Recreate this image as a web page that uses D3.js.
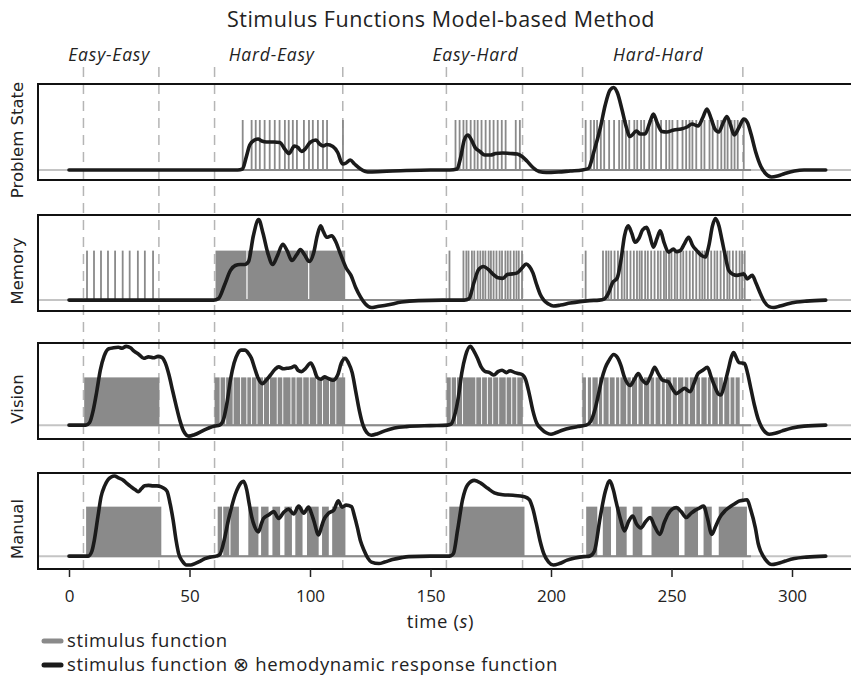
<!DOCTYPE html>
<html>
<head>
<meta charset="utf-8">
<script src="https://cdn.jsdelivr.net/npm/d3@7"></script>
<style>
  body { margin: 0; background: #fff; }
  svg text { fill: #222; }
</style>
</head>
<body>
<div id="container"></div>
<script>
/* DATA */
// conditions (seconds)
const conditions = ["Easy-Easy", "Hard-Easy", "Easy-Hard", "Hard-Hard"];
const condStart = [6, 60.4, 156.6, 213.1];
const condEnd = [37.3, 113.6, 188.2, 279.6];

const modules = ["Problem State", "Memory", "Vision", "Manual"];
const timeTicks = [0, 50, 100, 150, 200, 250, 300];
const stimEnd = 283; // stimulus function defined up to here

// stimulus function: short events (onsets, s)
const problemSpikes = [71.7, 75.4, 77.1, 78.8, 80.8, 82.9, 85, 87, 89.2, 90.8, 92.5, 94.2, 97.1, 99.2, 100.8, 102.9, 105, 106.7, 113.3,
  160, 161.7, 163.3, 164.6, 166.3, 167.9, 169.2, 170.8, 172.5, 174.2, 175.8, 177.5, 179.2, 180.8, 185, 186.7,
  214, 216.1, 217.5, 218.75, 220.3, 221.7, 223.75, 225.8, 227.9, 229.2, 230.7, 232.1, 234.2, 235.4, 237, 238.3, 240.4, 241.7,
  243.2, 245.3, 247.4, 248.75, 250, 252.1, 254.2, 255.7, 257.1, 258.3, 259.9, 262, 263.3, 265.4, 266.7, 268.75, 270.3, 271.7,
  272.9, 274.5, 275.8, 277.1, 279.6];
const memorySpikes = [7.1, 10, 12.9, 15.8, 18.75, 21.9, 24.8, 28.2, 31.1, 34.5,
  157.5, 163.3, 164.5, 165.4, 166.8, 167.8, 169.2, 170.3, 171.4, 172.4, 173.75, 174.7, 175.8, 177, 178.3, 179.3, 180.7, 181.7,
  182.8, 184.2, 185.3, 186.25, 187.6,
  214, 221.2, 222.5, 223.5, 224.6, 226, 227.4, 229, 230.1, 231.2, 232.6, 234, 235.3, 236.4, 237.3, 238.7, 239.8, 241.2, 242.6,
  244, 245.1, 246.5, 247.4, 248.6, 249.6, 251, 252, 253.4, 254.5, 255.8, 257.2, 258.5, 259.9, 261.3, 262.4, 263.4, 264.7,
  266.1, 267.5, 268.6, 270, 271.4, 272.8, 273.7, 275.1, 276.5, 277.9, 278.9, 280];
const spikeDur = 0.6;

// stimulus function: long events [on, off] (s)
const memoryBlocks = [[60.8, 73.6], [74.1, 99.2], [99.7, 114.6]];
const visionBlocks = [[6.3, 37.5],
  [60.4, 62.5], [62.9, 64.8], [65.2, 67.9], [68.3, 71], [71.4, 73.6], [74, 75.5], [75.9, 77.8], [78.2, 80.5], [80.9, 83],
  [83.4, 86.2], [86.6, 88.5], [88.9, 91.9], [92.3, 94], [94.4, 96.8], [97.2, 99.5], [99.9, 102.6], [103, 105], [105.4, 107.9],
  [108.3, 110.5], [110.9, 114.6],
  [156.7, 158.4], [158.8, 160.6], [161, 163.1], [163.5, 168.6], [169, 171], [171.4, 173.4], [173.8, 175.6], [176, 178.1],
  [178.5, 181.2], [181.6, 183.5], [183.9, 185.6], [186, 188.3],
  [213, 214.5], [215.3, 216.6], [217.2, 219.4], [219.9, 221.2], [221.8, 223.9], [224.4, 226.4], [227, 228.3], [228.8, 231.2],
  [231.7, 233.1], [233.6, 235.7], [236.3, 238.1], [238.6, 240.8], [241.3, 242.8], [243.4, 245.4], [246, 247.2], [247.7, 249.9],
  [250.5, 252.2], [252.7, 254.9], [255.5, 257], [257.6, 259.8], [260.3, 261.8], [262.4, 264.6], [265.1, 266.3], [266.9, 269.2],
  [269.7, 271.3], [271.9, 274], [274.5, 276.1], [276.6, 278.3]];
const manualBlocks = [[7.1, 38.3],
  [61.7, 63.5], [64, 66.5], [67, 70.5], [74.4, 78.6], [79.7, 82.8], [84.4, 87.6], [89.4, 92.5], [93.9, 96.9], [98.75, 103.6],
  [105, 107.8], [109.2, 114.7],
  [157.8, 189],
  [214.6, 219.2], [221.5, 224.9], [227, 231.4], [233.9, 237.9], [241.7, 253.1], [255.4, 261], [263.3, 266.7], [269.6, 281.3]];

// stimulus function convolved with hemodynamic response function [t, value]
const problemHRF = [[0, 0], [70, 0], [72, 0.02], [73.5, 0.25], [75, 0.5], [77, 0.6], [78.5, 0.62], [80, 0.58], [82, 0.56], [85, 0.56],
  [87.5, 0.55], [89.5, 0.42], [91.3, 0.33], [93.5, 0.48], [95, 0.45], [96.5, 0.37], [98, 0.42], [100, 0.55], [102.5, 0.6],
  [104, 0.52], [105.5, 0.48], [107, 0.51], [109.5, 0.47], [111.5, 0.35], [113.5, 0.12], [115, 0.14], [116.7, 0.2], [118.5, 0.12],
  [121, 0.02], [124, -0.04], [130, -0.03], [140, -0.01], [150, 0], [158, 0],
  [161, 0.02], [162.5, 0.25], [164, 0.6], [165.5, 0.7], [167, 0.6], [168.5, 0.45], [170.5, 0.37], [172.5, 0.3], [175, 0.3],
  [177, 0.33], [180, 0.34], [183, 0.33], [186, 0.32], [188, 0.27], [190, 0.18], [192.5, 0.05], [195, -0.03], [198, -0.05],
  [203, -0.04], [208, -0.02], [213, 0],
  [215.5, 0.03], [218, 0.4], [220.5, 0.85], [222.5, 1.3], [224.5, 1.6], [226, 1.65], [227.5, 1.55], [229.5, 1.2], [231, 0.9],
  [232.8, 0.67], [235.5, 0.78], [237, 0.72], [239, 0.72], [241, 0.95], [242.5, 1.12], [244, 0.95], [246, 0.77], [248, 0.76],
  [251, 0.8], [254, 0.82], [256.5, 0.86], [258.5, 0.92], [261, 0.88], [263, 1.05], [264.7, 1.22], [266.5, 1.02], [268, 0.82],
  [269.6, 0.76], [271.5, 0.95], [273, 1.07], [274.5, 0.9], [276, 0.7], [278, 0.85], [280, 1.02], [281.5, 0.95], [283, 0.72],
  [285, 0.35], [287, 0.08], [289, -0.07], [291.5, -0.14], [294, -0.12], [297, -0.07], [301, -0.02], [305, 0], [314, 0]];
const memoryHRF = [[0, 0], [60, 0], [62, 0.03], [64.5, 0.3], [67, 0.6], [69, 0.7], [71, 0.72], [73, 0.72], [74.5, 0.78],
  [76.5, 1.3], [78.7, 1.63], [80.5, 1.35], [82.5, 0.95], [84.5, 0.72], [86.5, 0.9], [88.7, 1.13], [90.5, 1.0], [92.5, 0.8],
  [94.5, 0.92], [96, 1.02], [97.7, 0.92], [99.7, 0.78], [101.5, 0.95], [103, 1.3], [104.4, 1.5], [105.6, 1.38], [106.9, 1.27],
  [109, 1.3], [110.5, 1.2], [112.5, 0.95], [115, 0.65], [117, 0.5], [119, 0.25], [121, 0.06], [123, -0.08], [125.4, -0.15],
  [128, -0.13], [132, -0.1], [138, -0.04], [145, -0.01], [155, 0],
  [164, 0], [166, 0.03], [168, 0.35], [170, 0.62], [172, 0.68], [174, 0.62], [176, 0.52], [178, 0.45], [180, 0.44], [182, 0.52],
  [184, 0.53], [186, 0.55], [188, 0.65], [189.7, 0.73], [191, 0.68], [192.5, 0.55], [194, 0.32], [195.5, 0.12], [197, 0],
  [199, -0.08], [201, -0.12], [204, -0.1], [208, -0.06], [212, -0.03], [216, -0.01], [220, 0],
  [222, 0.02], [223.75, 0.13], [225.5, 0.35], [227.5, 0.45], [229, 0.8], [230.5, 1.3], [232, 1.5], [233.5, 1.35], [234.9, 1.17],
  [236.5, 1.25], [238, 1.42], [239.7, 1.47], [241, 1.3], [242.5, 1.07], [244, 1.25], [245.3, 1.4], [247, 1.15], [248.75, 0.97],
  [250.8, 1.03], [252, 0.98], [253.6, 1.0], [255.5, 1.15], [257.1, 1.27], [258.8, 1.1], [260.5, 1.0], [262.5, 0.9], [264, 0.87],
  [265.5, 1.1], [267, 1.5], [268.2, 1.65], [269.7, 1.5], [271, 1.2], [272.5, 0.85], [273.75, 0.6], [275.5, 0.52], [277.2, 0.5],
  [279, 0.52], [280, 0.53], [281.4, 0.43], [283.5, 0.5], [285, 0.35], [286.9, 0.13], [288.5, -0.03], [290.5, -0.13],
  [292.5, -0.15], [295, -0.12], [298, -0.08], [302, -0.04], [306, -0.02], [314, 0]];
const visionHRF = [[0, 0], [7, 0], [8.5, 0.05], [10, 0.3], [11.5, 0.7], [13, 1.15], [14.6, 1.45], [16.5, 1.6], [18.5, 1.62],
  [20.5, 1.63], [22, 1.61], [23.7, 1.65], [25.5, 1.62], [27, 1.55], [29, 1.48], [31, 1.4], [33, 1.43], [35, 1.41], [37, 1.44],
  [38.5, 1.42], [40, 1.3], [41.5, 1.05], [43, 0.72], [44.5, 0.4], [46, 0.1], [47.5, -0.12], [49.7, -0.23], [52, -0.2],
  [55, -0.13], [58, -0.06], [60.5, -0.02],
  [62.5, 0], [64, 0.1], [65.5, 0.45], [67, 0.95], [68.5, 1.3], [70, 1.5], [71.5, 1.57], [73, 1.57], [74.5, 1.5], [75.7, 1.4],
  [77, 1.2], [78.5, 0.98], [80.2, 0.87], [82, 0.95], [83.6, 1.05], [85.5, 1.17], [87, 1.22], [89, 1.18], [90.4, 1.19],
  [92, 1.2], [93.75, 1.24], [95, 1.15], [96.5, 1.12], [98, 1.18], [100.3, 1.3], [101.5, 1.2], [103, 1.0], [104.5, 0.96],
  [106, 1.01], [107.5, 0.98], [109.5, 0.94], [111.5, 1.05], [113, 1.3], [114.6, 1.4], [116, 1.3], [117.5, 1.1], [119, 0.7],
  [120.5, 0.3], [122, 0.0], [123.5, -0.15], [125.4, -0.21], [128, -0.18], [131, -0.12], [135, -0.06], [140, -0.03],
  [150, -0.01], [157, 0],
  [158.5, 0.02], [160, 0.2], [161.6, 0.6], [163, 1.1], [164.5, 1.45], [166.5, 1.65], [168, 1.55], [169.5, 1.4], [171, 1.22],
  [172.5, 1.13], [174.5, 1.1], [176.3, 1.05], [178, 1.12], [179.7, 1.15], [181.5, 1.1], [183, 1.14], [185, 1.1], [186.5, 1.08],
  [188, 1.06], [189.5, 0.95], [191, 0.65], [192.5, 0.3], [194, 0.05], [196, -0.08], [198, -0.16], [200, -0.19], [202, -0.16],
  [205, -0.1], [208, -0.06], [211, -0.03], [214.6, 0],
  [216.5, 0.08], [218.1, 0.3], [219.5, 0.6], [221, 0.95], [222.5, 1.2], [224, 1.35], [226, 1.48], [227.5, 1.42], [229, 1.25],
  [230.5, 1.0], [232.8, 0.83], [234.5, 0.95], [236.2, 1.08], [237.8, 0.95], [239.6, 0.87], [241.5, 1.05], [243, 1.21],
  [244.5, 1.08], [246.3, 0.94], [248.6, 0.91], [250.5, 0.75], [252, 0.66], [253.8, 0.72], [255.4, 0.77], [257.7, 0.7],
  [259.5, 0.9], [261, 1.08], [263, 1.15], [264.9, 1.21], [266.5, 1.0], [267.8, 0.83], [269.5, 0.65], [270.5, 0.63], [272, 0.85],
  [273.5, 1.15], [275, 1.45], [275.75, 1.52], [277, 1.4], [278, 1.31], [280.3, 1.29], [281.5, 1.1], [283, 0.75], [284.5, 0.4],
  [286, 0.12], [287.5, -0.05], [289, -0.15], [290.5, -0.19], [293, -0.17], [296, -0.12], [300, -0.06], [305, -0.02], [314, 0]];
const manualHRF = [[0, 0], [8, 0], [9.5, 0.1], [10.5, 0.32], [12, 0.8], [13.3, 1.2], [14.8, 1.42], [16.1, 1.54], [17.5, 1.6],
  [18.9, 1.62], [20.5, 1.58], [22.4, 1.54], [24, 1.47], [25.8, 1.4], [27.5, 1.34], [28.9, 1.3], [30, 1.36], [31.4, 1.42],
  [33, 1.43], [34.9, 1.42], [36.5, 1.42], [38.3, 1.4], [40, 1.35], [40.8, 1.3], [42, 1.05], [43.2, 0.73], [44.5, 0.3],
  [45.5, 0.05], [47, -0.1], [48.75, -0.18], [50.5, -0.18], [52.2, -0.15], [54.5, -0.1], [56.4, -0.05], [58.5, -0.02], [61, 0],
  [62.5, 0.03], [64.7, 0.39], [66, 0.7], [67.5, 1.0], [69, 1.25], [70.3, 1.4], [72.4, 1.51], [73.75, 1.34], [74.8, 1.05],
  [75.8, 0.8], [77, 0.6], [78.6, 0.49], [79.8, 0.65], [80.7, 0.76], [82.8, 0.83], [84.9, 0.9], [87, 0.76], [89, 0.88],
  [91.1, 0.95], [93.2, 0.85], [95.3, 1.01], [97.4, 0.87], [99.4, 0.99], [100.5, 0.88], [101.5, 0.73], [103.6, 0.43],
  [104.8, 0.6], [105.7, 0.73], [107.8, 0.87], [109.9, 0.93], [111.7, 1.12], [113.3, 0.99], [115, 1.03], [117.2, 1.0],
  [118.5, 0.8], [119.6, 0.59], [121, 0.3], [122.4, 0.12], [124, -0.04], [125.5, -0.12], [128.6, -0.15], [131, -0.12],
  [134.2, -0.07], [138, -0.03], [141, -0.01], [150, 0], [157, 0],
  [158.5, 0.01], [159.5, 0.05], [161.25, 0.53], [163.3, 1.14], [165.4, 1.44], [168.2, 1.53], [171, 1.47], [173.75, 1.37],
  [176.5, 1.28], [180, 1.24], [184.2, 1.23], [189, 1.2], [191, 1.14], [192.5, 0.95], [193.9, 0.66], [195.5, 0.3], [197, 0.05],
  [199, -0.12], [201, -0.18], [203.5, -0.15], [206.7, -0.08], [210, -0.04], [213.6, -0.01],
  [216, 0], [218, 0.1], [220.4, 0.78], [222.5, 1.3], [224.4, 1.52], [225.8, 1.35], [227.1, 1.08], [228.8, 0.75], [230.5, 0.51],
  [232.2, 0.7], [233.9, 0.81], [235.5, 0.65], [237.3, 0.57], [239.3, 0.7], [241.2, 0.78], [243, 0.6], [245.2, 0.44],
  [247, 0.68], [248.6, 0.85], [250.3, 0.95], [252, 0.98], [254, 0.9], [256.1, 0.78], [258, 0.86], [259.9, 0.93], [261.5, 0.97],
  [263.3, 1.01], [265, 0.75], [266.7, 0.44], [268.3, 0.6], [270, 0.78], [272.3, 0.92], [274.6, 1.01], [276.3, 1.06],
  [278, 1.11], [280, 1.13], [281.4, 1.14], [282.8, 0.95], [284.8, 0.57], [286, 0.25], [287, 0.1], [289, -0.07], [291.6, -0.17],
  [294, -0.15], [297.2, -0.1], [301, -0.05], [306, -0.02], [314, 0]];

/* CONSTANTS */
const width = 851, height = 679;
const boxLeft = 38, boxRight = 853;
const panelTop = [84, 215, 343, 473], panelH = 96;
const yDomains = [[-0.2, 1.72], [-0.22, 1.72], [-0.29, 1.72], [-0.26, 1.68]];
const condNudge = [-12, -7, -9, -4.5]; // px shift of the condition labels
const stimColor = "#8a8a8a", zeroColor = "#c4c4c4", hrfColor = "#1b1b1b", dashColor = "#b5b5b5";
const sans = "'Open Sans', Lato, sans-serif";

const toIntervals = onsets => onsets.map(t => [t, t + spikeDur]);
const panels = [
  { name: modules[0], stim: toIntervals(problemSpikes), hrf: problemHRF },
  { name: modules[1], stim: toIntervals(memorySpikes).concat(memoryBlocks), hrf: memoryHRF },
  { name: modules[2], stim: visionBlocks, hrf: visionHRF },
  { name: modules[3], stim: manualBlocks, hrf: manualHRF }
];

const xScale = d3.scaleLinear().domain([0, 300]).range([69, 792]);

const svg = d3.select("#container").append("svg")
  .attr("width", width).attr("height", height);

// title
svg.append("text")
  .attr("x", 441).attr("y", 27)
  .attr("text-anchor", "middle")
  .style("font-family", sans).style("font-size", "21.5px").style("letter-spacing", "0.5px")
  .text("Stimulus Functions Model-based Method");

// condition labels
svg.selectAll("text.cond")
  .data(conditions)
  .join("text")
  .attr("class", "cond")
  .attr("x", (d, i) => xScale((condStart[i] + condEnd[i]) / 2) + condNudge[i])
  .attr("y", 61)
  .attr("text-anchor", "middle")
  .style("font-family", sans).style("font-style", "italic").style("font-size", "17.5px")
  .style("letter-spacing", "0.8px")
  .text(d => d);

// dashed condition boundaries
const bounds = condStart.concat(condEnd);
svg.selectAll("line.bound")
  .data(bounds)
  .join("line")
  .attr("class", "bound")
  .attr("x1", d => xScale(d)).attr("x2", d => xScale(d))
  .attr("y1", 67).attr("y2", panelTop[3] + panelH)
  .attr("stroke", dashColor).attr("stroke-width", 1.5)
  .attr("stroke-dasharray", "10,7");

panels.forEach((p, i) => {
  const top = panelTop[i];
  const yScale = d3.scaleLinear().domain(yDomains[i]).range([top + panelH, top]);
  const g = svg.append("g").attr("class", "panel");

  // zero line
  g.append("line")
    .attr("x1", boxLeft).attr("x2", boxRight)
    .attr("y1", yScale(0)).attr("y2", yScale(0))
    .attr("stroke", zeroColor).attr("stroke-width", 2);

  // stimulus baseline
  g.append("line")
    .attr("x1", xScale(0)).attr("x2", xScale(stimEnd))
    .attr("y1", yScale(0)).attr("y2", yScale(0))
    .attr("stroke", stimColor).attr("stroke-width", 2);

  // stimulus events
  g.selectAll("rect.stim")
    .data(p.stim)
    .join("rect")
    .attr("class", "stim")
    .attr("x", d => xScale(d[0]))
    .attr("width", d => Math.max(1.8, xScale(d[1]) - xScale(d[0])))
    .attr("y", yScale(1))
    .attr("height", yScale(0) - yScale(1))
    .attr("fill", stimColor);

  // convolved response
  const line = d3.line()
    .x(d => xScale(d[0]))
    .y(d => yScale(d[1]))
    .curve(d3.curveMonotoneX);

  g.append("path")
    .datum(p.hrf)
    .attr("d", line)
    .attr("fill", "none")
    .attr("stroke", hrfColor)
    .attr("stroke-width", 3.6)
    .attr("stroke-linejoin", "round")
    .attr("stroke-linecap", "round");

  // box
  g.append("rect")
    .attr("x", boxLeft).attr("y", top)
    .attr("width", boxRight - boxLeft).attr("height", panelH)
    .attr("fill", "none").attr("stroke", "#111").attr("stroke-width", 2);

  // module label
  g.append("text")
    .attr("transform", `translate(23,${top + panelH / 2 + 8}) rotate(-90)`)
    .attr("text-anchor", "middle")
    .style("font-family", "'DejaVu Sans', sans-serif").style("font-size", "16.5px")
    .text(p.name);
});

// x axis
const xAxis = d3.axisBottom(xScale).tickValues(timeTicks).tickSize(8).tickPadding(13);
const axisG = svg.append("g")
  .attr("transform", `translate(0,${panelTop[3] + panelH})`)
  .call(xAxis);
axisG.select(".domain").remove();
axisG.selectAll(".tick line").attr("stroke", "#222").attr("stroke-width", 1.5);
axisG.selectAll(".tick text")
  .style("font-family", sans).style("font-size", "17px").attr("fill", "#222");

const xt = svg.append("text")
  .attr("x", xScale(150) + 10).attr("y", 628)
  .attr("text-anchor", "middle")
  .style("font-family", sans).style("font-size", "18.5px").style("letter-spacing", "0.6px");
xt.append("tspan").text("time (");
xt.append("tspan").style("font-style", "italic").text("s");
xt.append("tspan").text(")");

// legend
const legendItems = ["stimulus function", "stimulus function \u2297 hemodynamic response function"];
const legendColors = [stimColor, hrfColor];
const lg = svg.selectAll("g.legend")
  .data(legendItems)
  .join("g")
  .attr("class", "legend")
  .attr("transform", (d, i) => `translate(0,${641 + i * 24})`);
lg.append("line")
  .attr("x1", 44).attr("x2", 61)
  .attr("stroke", (d, i) => legendColors[i])
  .attr("stroke-width", 5).attr("stroke-linecap", "round");
lg.append("text")
  .attr("x", 67).attr("y", 6)
  .style("font-family", sans).style("font-size", "18.5px").style("letter-spacing", "0.65px")
  .text(d => d);
</script>
</body>
</html>
